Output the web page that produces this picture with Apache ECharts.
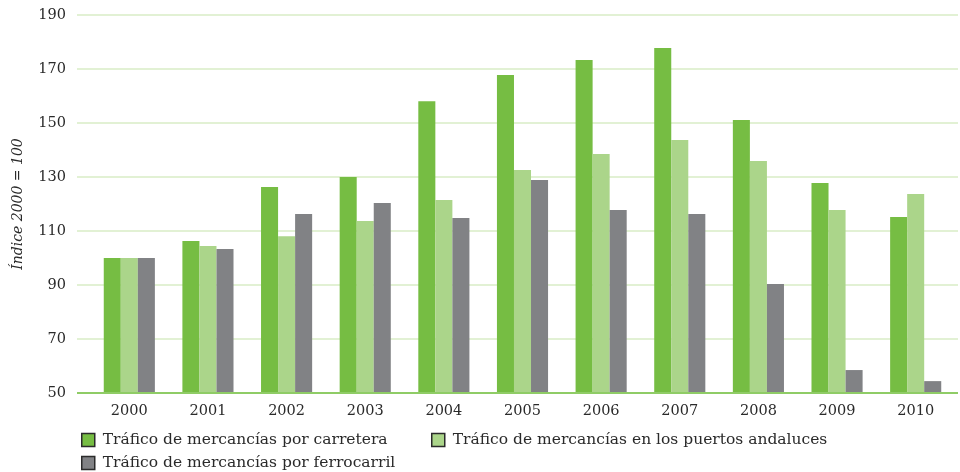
<!DOCTYPE html>
<html>
<head>
<meta charset="utf-8">
<script src="https://cdn.jsdelivr.net/npm/echarts@6/dist/echarts.min.js"></script>
<style>
  html, body { margin: 0; padding: 0; background: #fff; }
  #chart { width: 960px; height: 472px; }
</style>
</head>
<body>
<div id="chart"></div>
<script>
  const years = ['2000', '2001', '2002', '2003', '2004', '2005', '2006', '2007', '2008', '2009', '2010'];
  const carretera = [100, 106.3, 126.3, 130, 158.1, 167.8, 173.3, 177.8, 151.1, 127.8, 115.2];
  const puertos = [100, 104.4, 108.1, 113.7, 121.5, 132.6, 138.5, 143.7, 135.9, 117.8, 123.7];
  const ferrocarril = [100, 103.3, 116.3, 120.4, 114.8, 128.9, 117.8, 116.3, 90.4, 58.5, 54.4];
  const names = [
    'Tráfico de mercancías por carretera',
    'Tráfico de mercancías en los puertos andaluces',
    'Tráfico de mercancías por ferrocarril',
  ];
  const colors = ['#76bd43', '#abd58a', '#818285'];
  const font = 'DejaVu Serif';
  const textColor = '#2a2a2a';

  const chart = echarts.init(document.getElementById('chart'));

  const legendBase = {
    icon: 'rect',
    itemWidth: 13,
    itemHeight: 13,
    itemStyle: { borderColor: '#2b2b2b', borderWidth: 1.5 },
    textStyle: { fontFamily: font, fontSize: 15.5, color: textColor, padding: [0, 0, 0, 3] },
    selectedMode: false,
  };

  const option = {
    animation: false,
    color: colors,
    grid: [
      { left: 77, right: 2, top: 15, bottom: 79 },
      { left: 90, right: 5, top: 15, bottom: 79 },
    ],
    legend: [
      Object.assign({ data: [names[0]], left: 76, top: 427 }, legendBase),
      Object.assign({ data: [names[1]], left: 426, top: 427 }, legendBase),
      Object.assign({ data: [names[2]], left: 76, top: 450 }, legendBase),
    ],
    xAxis: [
      {
        gridIndex: 0,
        type: 'value',
        min: 0,
        max: 1,
        axisLine: { show: false },
        axisTick: { show: false },
        axisLabel: { show: false },
        splitLine: { show: false },
      },
      {
        gridIndex: 1,
        type: 'category',
        data: years,
        axisLine: { show: false },
        axisTick: { show: false },
        axisLabel: { fontFamily: font, fontSize: 14.5, color: textColor, margin: 11 },
      },
    ],
    yAxis: [
      {
        gridIndex: 0,
        type: 'value',
        min: 50,
        max: 190,
        interval: 20,
        name: 'Índice 2000 = 100',
        nameLocation: 'middle',
        nameGap: 52,
        nameTextStyle: { fontFamily: font, fontStyle: 'italic', fontSize: 14, color: textColor },
        axisLine: { show: false },
        axisTick: { show: false },
        axisLabel: { fontFamily: font, fontSize: 14.5, color: textColor, margin: 11 },
        splitLine: { lineStyle: { color: '#d8ecc6', width: 1.5 } },
      },
      {
        gridIndex: 1,
        type: 'value',
        min: 50,
        max: 190,
        interval: 20,
        show: false,
        splitLine: { show: false },
      },
    ],
    series: [
      {
        name: names[0],
        type: 'bar',
        xAxisIndex: 1,
        yAxisIndex: 1,
        data: carretera,
        barGap: '0%',
        barCategoryGap: '35%',
      },
      {
        name: names[1],
        type: 'bar',
        xAxisIndex: 1,
        yAxisIndex: 1,
        data: puertos,
        barGap: '0%',
        barCategoryGap: '35%',
      },
      {
        name: names[2],
        type: 'bar',
        xAxisIndex: 1,
        yAxisIndex: 1,
        data: ferrocarril,
        barGap: '0%',
        barCategoryGap: '35%',
      },
      {
        // baseline of the plot area
        type: 'line',
        xAxisIndex: 0,
        yAxisIndex: 0,
        data: [],
        silent: true,
        markLine: {
          symbol: 'none',
          silent: true,
          label: { show: false },
          lineStyle: { color: '#8fcc66', width: 2, type: 'solid' },
          data: [{ yAxis: 50 }],
        },
      },
    ],
  };

  chart.setOption(option);
</script>
</body>
</html>
